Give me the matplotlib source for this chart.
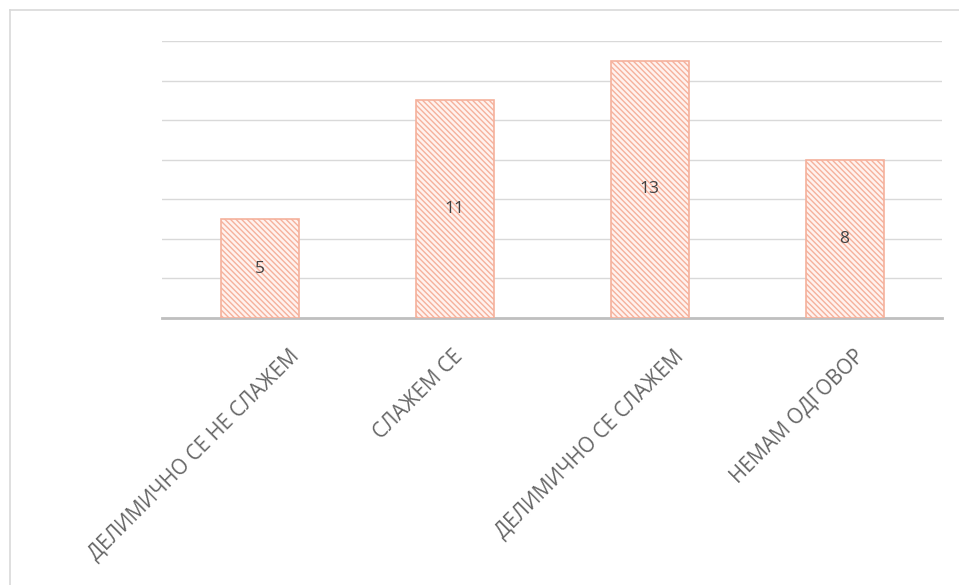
import matplotlib.pyplot as plt
from matplotlib.lines import Line2D
from matplotlib.transforms import ScaledTranslation

categories = ["ДЕЛИМИЧНО СЕ НЕ СЛАЖЕМ", "СЛАЖЕМ СЕ", "ДЕЛИМИЧНО СЕ СЛАЖЕМ", "НЕМАМ ОДГОВОР"]
values = [5, 11, 13, 8]

plt.rcParams['font.family'] = ['Open Sans', 'DejaVu Sans']
plt.rcParams['hatch.linewidth'] = 1.0

fig = plt.figure(figsize=(9.59, 5.85), dpi=100)
ax = fig.add_axes([162 / 959, 1 - 318 / 585, 780 / 959, 277 / 585])

x = range(len(categories))
bars = ax.bar(x, values, width=0.4, color='#fff2ee', edgecolor='#f5b19c',
              hatch='\\' * 6, linewidth=1.2, zorder=3)

for xi, v in zip(x, values):
    ax.text(xi, v / 2, str(v), ha='center', va='center', fontsize=12.5,
            color='#404040', zorder=4)

ax.set_xlim(-0.5, len(categories) - 0.5)
ax.set_ylim(0, 14)
ax.set_yticks(range(0, 15, 2))
ax.yaxis.grid(True, color='#d9d9d9', linewidth=1.0, zorder=0)
ax.tick_params(axis='y', length=0, labelleft=False)
ax.set_xticks([])

for s in ['top', 'right', 'left']:
    ax.spines[s].set_visible(False)
ax.spines['bottom'].set_color('#bfbfbf')
ax.spines['bottom'].set_linewidth(2)

# rotated category labels, shifted like Excel does (longer labels sit further right)
fs = 14.8
renderer = fig.canvas.get_renderer()
for xi, lab in zip(x, categories):
    tmp = fig.text(0, 0, lab, fontsize=fs)
    L = tmp.get_window_extent(renderer).width
    tmp.remove()
    dx = (0.177 * L - 15) / 100
    off = ScaledTranslation(dx, -0.35, fig.dpi_scale_trans)
    ax.text(xi, 0, lab, rotation=45, rotation_mode='anchor', ha='right', va='center',
            fontsize=fs, color='#666666',
            transform=ax.get_xaxis_transform() + off)

# chart frame
fig.add_artist(Line2D([10 / 959, 1], [1 - 10 / 585, 1 - 10 / 585],
                      color='#d9d9d9', linewidth=1.2, transform=fig.transFigure))
fig.add_artist(Line2D([10 / 959, 10 / 959], [0, 1 - 10 / 585],
                      color='#d9d9d9', linewidth=1.2, transform=fig.transFigure))

fig.savefig('out.png', dpi=100)
